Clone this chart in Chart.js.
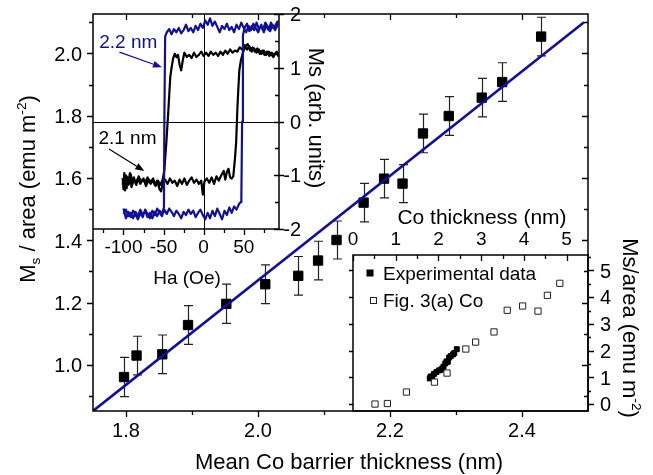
<!DOCTYPE html>
<html lang="en">
<head>
<meta charset="UTF-8">
<title>Ms per area vs mean Co barrier thickness</title>
<script src="https://cdn.jsdelivr.net/npm/chart.js"></script>
<style>
  body { margin: 0; background: #fff; }
  #wrap { position: relative; width: 653px; height: 475px; }
  #wrap canvas { position: absolute; left: 0; top: 0; }
</style>
</head>
<body>
<div id="wrap">
  <canvas id="loops" width="653" height="475"></canvas>
  <canvas id="refInset" width="653" height="475"></canvas>
  <canvas id="main" width="653" height="475"></canvas>
</div>

<script>
// main panel: Ms/area against mean Co barrier thickness
const coX  = [1.797, 1.816, 1.855, 1.894, 1.952, 2.011, 2.061, 2.091, 2.119, 2.160, 2.191, 2.219, 2.250, 2.289, 2.339, 2.370, 2.429];
const msY  = [0.961, 1.030, 1.034, 1.128, 1.196, 1.259, 1.286, 1.335, 1.401, 1.521, 1.598, 1.582, 1.743, 1.799, 1.858, 1.908, 2.054];
const msErr = [0.063, 0.062, 0.062, 0.062, 0.063, 0.062, 0.062, 0.062, 0.061, 0.062, 0.062, 0.061, 0.062, 0.062, 0.062, 0.062, 0.062];
const fitX = [1.75, 2.494];
const fitY = [0.852, 2.10];

const xTicks = [1.8, 2.0, 2.2, 2.4];
const xTickLabels = ['1.8', '2.0', '2.2', '2.4'];
const xMinor = [1.9, 2.1, 2.3];
const yTicks = [1.0, 1.2, 1.4, 1.6, 1.8, 2.0];
const yTickLabels = ['1.0', '1.2', '1.4', '1.6', '1.8', '2.0'];
const yMinor = [0.9, 1.1, 1.3, 1.5, 1.7, 1.9, 2.1];

// inset: hysteresis loops, [field (Oe), Ms (arb. units)]
const blueLoop = [
  [-100,-1.62],[-97,-1.80],[-94,-1.68],[-91,-1.78],[-88,-1.66],[-85,-1.74],[-82,-1.82],[-79,-1.70],[-76,-1.78],[-73,-1.64],
  [-70,-1.72],[-67,-1.80],[-64,-1.66],[-61,-1.74],[-58,-1.62],[-55,-1.70],[-52,-1.76],[-49,-1.64],[-46,-1.72],[-43,-1.62],
  [-40,-1.68],[-37,-1.76],[-34,-1.66],[-31,-1.72],[-28,-1.80],[-25,-1.68],[-22,-1.74],[-19,-1.64],[-16,-1.72],[-13,-1.66],
  [-10,-1.78],[-7,-1.70],[-4,-1.64],[-1,-1.74],[2,-1.82],[5,-1.70],[8,-1.80],[11,-1.66],[14,-1.76],[17,-1.62],
  [20,-1.72],[23,-1.82],[26,-1.66],[29,-1.74],[32,-1.60],[35,-1.70],[38,-1.58],[41,-1.64],[44,-1.54],[46,-1.50],
  [47,-1.50],[48,0.0],[49,1.60],
  [51,1.74],[54,1.82],[57,1.68],[60,1.78],[63,1.70],[66,1.84],[69,1.72],[72,1.80],[75,1.66],[78,1.78],
  [81,1.70],[84,1.84],[87,1.74],[90,1.80],[92,1.86],
  [92,1.78],[89,1.70],[86,1.80],[83,1.68],[80,1.76],[77,1.84],[74,1.70],[71,1.78],[68,1.66],[65,1.74],
  [62,1.82],[59,1.70],[56,1.78],[53,1.66],[50,1.74],[47,1.84],[44,1.72],[41,1.80],[38,1.66],[35,1.76],
  [32,1.70],[29,1.82],[26,1.72],[23,1.78],[20,1.66],[17,1.76],[14,1.86],[11,1.78],[8,1.92],[5,1.80],
  [2,1.88],[-1,1.74],[-4,1.82],[-7,1.70],[-10,1.78],[-13,1.66],[-16,1.74],[-19,1.68],[-22,1.80],[-25,1.70],
  [-28,1.64],[-31,1.74],[-34,1.66],[-37,1.72],[-40,1.62],[-43,1.72],[-46,1.66],[-48,1.58],
  [-49,0.0],[-49.5,-1.60],
  [-52,-1.72],[-55,-1.66],[-58,-1.76],[-61,-1.68],[-64,-1.80],[-67,-1.70],[-70,-1.78],[-73,-1.66],[-76,-1.74],
  [-79,-1.64],[-82,-1.76],[-85,-1.68],[-88,-1.80],[-91,-1.70],[-94,-1.76],[-97,-1.64],[-100,-1.72]
];
const blackLoop = [
  [-101,-1.05],[-100,-1.26],[-99,-0.96],[-98,-1.20],[-97,-1.00],[-96,-1.24],[-95,-1.04],[-93,-1.16],[-91,-0.98],[-89,-1.12],
  [-87,-1.04],[-85,-1.14],[-82,-1.06],[-79,-1.16],[-76,-1.08],[-73,-1.14],[-70,-1.04],[-67,-1.12],[-64,-1.08],[-61,-1.18],
  [-58,-1.10],[-55,-1.26],[-53,-1.30],[-51,-1.14],[-48,-1.08],[-45,-1.16],[-42,-1.06],[-39,-1.14],[-36,-1.10],[-33,-1.20],
  [-30,-1.08],[-27,-1.16],[-24,-1.06],[-21,-1.18],[-18,-1.10],[-15,-1.04],[-12,-1.14],[-9,-1.08],[-6,-1.16],[-3,-1.10],
  [-1,-1.36],[1,-1.12],[4,-1.06],[7,-1.14],[10,-1.04],[13,-1.16],[16,-1.02],[19,-1.10],[22,-1.00],[25,-0.92],
  [27,-1.08],[29,-0.94],[31,-0.88],[33,-1.04],[35,-1.06],[37,-1.02],
  [39,-0.70],[40.5,-0.40],[42,0.20],[43,0.52],[44.5,0.95],[46.5,1.14],[49,1.28],
  [52,1.40],[55,1.44],[58,1.32],[61,1.38],[64,1.30],[67,1.36],[70,1.26],[73,1.32],[76,1.24],
  [79,1.30],[82,1.22],[85,1.28],[88,1.24],[91,1.30],[93,1.26],
  [93,1.22],[90,1.28],[87,1.20],[84,1.26],[81,1.30],[78,1.24],[75,1.32],[72,1.26],[69,1.34],[66,1.28],
  [63,1.36],[60,1.30],[57,1.40],[54,1.34],[51,1.42],[48,1.34],[45,1.38],[42,1.30],[39,1.32],[36,1.28],
  [33,1.34],[30,1.26],[27,1.32],[24,1.24],[21,1.30],[18,1.22],[15,1.28],[12,1.24],[9,1.30],[6,1.22],
  [3,1.28],[0,1.22],[-3,1.30],[-6,1.24],[-9,1.20],[-12,1.28],[-15,1.18],[-18,1.24],[-21,1.20],[-24,1.28],
  [-26,1.14],[-28,0.95],[-30,1.06],[-32,1.24],[-34,1.20],[-36,1.26],[-38,1.18],
  [-40,1.00],[-41.6,0.83],[-44,0.21],[-46.6,-0.41],[-49,-0.90],[-51,-1.08],
  [-54,-1.18],[-57,-1.10],[-60,-1.20],[-63,-1.06],[-66,-1.16],[-69,-1.10],[-72,-1.20],[-75,-1.06],[-78,-1.12],
  [-81,-1.02],[-84,-1.18],[-87,-1.08],[-90,-1.22],[-92,-0.96],[-94,-1.18],[-96,-1.02],[-98,-1.28],[-100,-1.08],[-101,-1.18]
];
const hTicks = [-100, -50, 0, 50];
const hTickLabels = ['-100', '-50', '0', '50'];
const hMinor = [-125, -75, -25, 25, 75];
const mTicks = [2, 1, 0, -1, -2];
const mTickLabels = ['2', '1', '0', '-1', '-2'];
const mMinor = [1.5, 0.5, -0.5, -1.5];

// inset: Ms/area against Co thickness, reference set
const refX = [0.515, 0.805, 1.25, 1.906, 2.20, 2.64, 2.87, 3.30, 3.61, 3.97, 4.33, 4.55, 4.84];
const refY = [0.00, 0.02, 0.45, 0.82, 1.16, 2.06, 2.32, 2.70, 3.51, 3.67, 3.48, 4.07, 4.52];
const tTicks = [0, 1, 2, 3, 4, 5];
const tTickLabels = ['0', '1', '2', '3', '4', '5'];
const tMinor = [0.5, 1.5, 2.5, 3.5, 4.5];
const aTicks = [0, 1, 2, 3, 4, 5];
const aTickLabels = ['0', '1', '2', '3', '4', '5'];
const aMinor = [0.5, 1.5, 2.5, 3.5, 4.5, 5.5];

const BLUE = '#10109a';
const FONT = '"Liberation Sans", Arial, Helvetica, sans-serif';
function font(px) { return px + 'px ' + FONT; }
const pts = (xs, ys) => xs.map((x, i) => ({ x: x, y: ys[i] }));
const pairs = arr => arr.map(p => ({ x: p[0], y: p[1] }));

// tick marks on one side of the plot area; mode = 'in', 'out' or 'both'
function tickMarks(chart, side, values, len, mode) {
  const ctx = chart.ctx, a = chart.chartArea;
  const sc = (side === 'top' || side === 'bottom') ? chart.scales.x : chart.scales.y;
  const o = (mode === 'out' || mode === 'both') ? len : 0;
  const i = (mode === 'in' || mode === 'both') ? len : 0;
  ctx.save();
  ctx.strokeStyle = '#000';
  ctx.lineWidth = 1.3;
  ctx.beginPath();
  values.forEach(v => {
    const p = Math.round(sc.getPixelForValue(v)) + 0.5;
    if (side === 'bottom') { ctx.moveTo(p, a.bottom - i); ctx.lineTo(p, a.bottom + o); }
    if (side === 'top')    { ctx.moveTo(p, a.top + i);    ctx.lineTo(p, a.top - o); }
    if (side === 'left')   { ctx.moveTo(a.left + i, p);   ctx.lineTo(a.left - o, p); }
    if (side === 'right')  { ctx.moveTo(a.right - i, p);  ctx.lineTo(a.right + o, p); }
  });
  ctx.stroke();
  ctx.restore();
}

// tick labels, gap measured from the plot edge to the text (cap centre or near edge)
function tickLabels(chart, side, values, texts, gap, px, align) {
  const ctx = chart.ctx, a = chart.chartArea;
  ctx.save();
  ctx.fillStyle = '#000';
  ctx.font = font(px);
  ctx.textBaseline = 'alphabetic';
  const lift = px * 0.36;
  values.forEach((v, k) => {
    if (side === 'bottom' || side === 'top') {
      const x = chart.scales.x.getPixelForValue(v);
      ctx.textAlign = 'center';
      ctx.fillText(texts[k], x, (side === 'bottom' ? a.bottom + gap : a.top - gap) + lift);
    } else {
      const y = chart.scales.y.getPixelForValue(v);
      ctx.textAlign = align;
      ctx.fillText(texts[k], side === 'left' ? a.left - gap : a.right + gap, y + lift);
    }
  });
  ctx.restore();
}

// centred text with optional sub/superscript parts, rotated about its centre
function richText(ctx, parts, cx, cy, px, rot, color) {
  ctx.save();
  ctx.translate(cx, cy);
  ctx.rotate(rot || 0);
  ctx.fillStyle = color || '#000';
  ctx.textBaseline = 'alphabetic';
  ctx.textAlign = 'left';
  const small = px * 0.62;
  let total = 0;
  const widths = parts.map(p => {
    ctx.font = font(p.sub || p.sup ? small : px);
    const w = ctx.measureText(p.t).width;
    total += w;
    return w;
  });
  let x = -total / 2;
  parts.forEach((p, k) => {
    ctx.font = font(p.sub || p.sup ? small : px);
    let dy = px * 0.36;
    if (p.sub) dy += px * 0.22;
    if (p.sup) dy -= px * 0.42;
    ctx.fillText(p.t, x, dy);
    x += widths[k];
  });
  ctx.restore();
}

function arrow(ctx, x0, y0, x1, y1, color) {
  const ang = Math.atan2(y1 - y0, x1 - x0), head = 9, half = 3.5;
  ctx.save();
  ctx.strokeStyle = color;
  ctx.fillStyle = color;
  ctx.lineWidth = 1.2;
  ctx.beginPath();
  ctx.moveTo(x0, y0);
  ctx.lineTo(x1 - head * Math.cos(ang), y1 - head * Math.sin(ang));
  ctx.stroke();
  ctx.beginPath();
  ctx.moveTo(x1, y1);
  ctx.lineTo(x1 - head * Math.cos(ang) + half * Math.sin(ang), y1 - head * Math.sin(ang) - half * Math.cos(ang));
  ctx.lineTo(x1 - head * Math.cos(ang) - half * Math.sin(ang), y1 - head * Math.sin(ang) + half * Math.cos(ang));
  ctx.closePath();
  ctx.fill();
  ctx.restore();
}

const whiteArea = {
  id: 'whiteArea',
  beforeDraw(chart) {
    const a = chart.chartArea, ctx = chart.ctx;
    ctx.save();
    ctx.fillStyle = '#fff';
    ctx.fillRect(a.left, a.top, a.right - a.left, a.bottom - a.top);
    ctx.restore();
  }
};

const baseOptions = (pad, xr, yr) => ({
  responsive: false,
  animation: false,
  devicePixelRatio: 1,
  layout: { padding: pad },
  plugins: { legend: { display: false }, tooltip: { enabled: false } },
  scales: {
    x: { type: 'linear', min: xr[0], max: xr[1], display: false },
    y: { type: 'linear', min: yr[0], max: yr[1], display: false }
  }
});

// ---------- hysteresis inset (drawn underneath) ----------
new Chart(document.getElementById('loops'), {
  type: 'scatter',
  data: {
    datasets: [
      { data: pairs(blueLoop), showLine: true, borderColor: BLUE, borderWidth: 2.2, pointRadius: 0, tension: 0, borderJoinStyle: 'round' },
      { data: pairs(blackLoop), showLine: true, borderColor: '#000', borderWidth: 2.2, pointRadius: 0, tension: 0, borderJoinStyle: 'round' }
    ]
  },
  options: baseOptions({ left: 93, top: 14, right: 374, bottom: 246 }, [-138, 94], [-2, 2]),
  plugins: [whiteArea, {
    id: 'loopFrame',
    beforeDatasetsDraw(chart) {
      const ctx = chart.ctx, a = chart.chartArea, sx = chart.scales.x, sy = chart.scales.y;
      const x0 = Math.round(sx.getPixelForValue(0)) + 0.5, y0 = Math.round(sy.getPixelForValue(0)) + 0.5;
      ctx.save();
      ctx.strokeStyle = '#000';
      ctx.lineWidth = 1;
      ctx.beginPath();
      ctx.moveTo(x0, a.top); ctx.lineTo(x0, a.bottom);
      ctx.moveTo(a.left, y0); ctx.lineTo(a.right, y0);
      ctx.stroke();
      ctx.restore();
    },
    afterDraw(chart) {
      const ctx = chart.ctx, a = chart.chartArea, sx = chart.scales.x, sy = chart.scales.y;
      ctx.save();
      ctx.strokeStyle = '#000';
      ctx.lineWidth = 1.5;
      ctx.beginPath();
      ctx.moveTo(a.left, a.bottom); ctx.lineTo(a.right, a.bottom); ctx.lineTo(a.right, a.top);
      ctx.stroke();
      ctx.restore();
      tickMarks(chart, 'bottom', hTicks, 6, 'out');
      tickMarks(chart, 'bottom', hMinor, 4, 'out');
      tickMarks(chart, 'right', mTicks, 5, 'both');
      tickMarks(chart, 'right', mMinor, 4, 'in');
      tickLabels(chart, 'bottom', hTicks, hTickLabels, 17, 19);
      tickLabels(chart, 'right', mTicks, mTickLabels, 22, 20, 'right');
      richText(ctx, [{ t: 'Ha (Oe)' }], 187, 277, 19, 0);
      richText(ctx, [{ t: 'Ms (arb. units)' }], 317, 118, 22, Math.PI / 2);
      // curve labels with pointers
      richText(ctx, [{ t: '2.2 nm' }], sx.getPixelForValue(-94), sy.getPixelForValue(1.49), 19, 0, BLUE);
      arrow(ctx, sx.getPixelForValue(-105), sy.getPixelForValue(1.29), sx.getPixelForValue(-52), sy.getPixelForValue(1.01), BLUE);
      richText(ctx, [{ t: '2.1 nm' }], sx.getPixelForValue(-95), sy.getPixelForValue(-0.30), 19, 0, '#000');
      arrow(ctx, sx.getPixelForValue(-118), sy.getPixelForValue(-0.51), sx.getPixelForValue(-74), sy.getPixelForValue(-0.92), '#000');
    }
  }]
});

// ---------- Co thickness inset ----------
new Chart(document.getElementById('refInset'), {
  type: 'scatter',
  data: {
    datasets: [
      { data: pts(refX, refY), pointStyle: 'rect', pointRadius: 4.4, backgroundColor: '#fff', borderColor: '#222', borderWidth: 1 },
      { data: pts(coX, msY), pointStyle: 'rect', pointRadius: 3.5, backgroundColor: '#000', borderColor: '#000', borderWidth: 1 }
    ]
  },
  options: baseOptions({ left: 353, top: 255, right: 65, bottom: 64 }, [0, 5.5], [-0.26, 5.58]),
  plugins: [whiteArea, {
    id: 'refFrame',
    afterDraw(chart) {
      const ctx = chart.ctx, a = chart.chartArea;
      ctx.save();
      ctx.strokeStyle = '#000';
      ctx.lineWidth = 1.5;
      ctx.strokeRect(a.left, a.top, a.right - a.left, a.bottom - a.top);
      ctx.restore();
      tickMarks(chart, 'top', tTicks, 6, 'in');
      tickMarks(chart, 'top', tMinor, 4, 'in');
      tickMarks(chart, 'right', aTicks, 6, 'out');
      tickMarks(chart, 'right', aMinor, 3, 'out');
      tickMarks(chart, 'left', aTicks, 4, 'out');
      tickLabels(chart, 'top', tTicks, tTickLabels, 17, 19);
      tickLabels(chart, 'right', aTicks, aTickLabels, 12, 20, 'left');
      richText(ctx, [{ t: 'Co thickness (nm)' }], 482, 216, 21, 0);
      richText(ctx, [{ t: 'Ms/area (emu m' }, { t: '-2', sup: true }, { t: ')' }], 631, 328, 22, Math.PI / 2);
      // legend
      ctx.save();
      ctx.fillStyle = '#000';
      ctx.fillRect(366.5, 269.5, 7, 7);
      ctx.fillStyle = '#fff';
      ctx.strokeStyle = '#222';
      ctx.lineWidth = 1;
      ctx.fillRect(370.5, 297.5, 6, 6);
      ctx.strokeRect(370.5, 297.5, 6, 6);
      ctx.fillStyle = '#000';
      ctx.font = font(19);
      ctx.textAlign = 'left';
      ctx.textBaseline = 'alphabetic';
      ctx.fillText('Experimental data', 383, 280);
      ctx.fillText('Fig. 3(a) Co', 383, 307);
      ctx.restore();
    }
  }]
});

// ---------- main panel (on top, transparent) ----------
new Chart(document.getElementById('main'), {
  type: 'scatter',
  data: {
    datasets: [
      { data: pts(fitX, fitY), showLine: true, borderColor: BLUE, borderWidth: 2.6, pointRadius: 0 },
      { data: pts(coX, msY), pointStyle: 'rect', pointRadius: 6.6, backgroundColor: '#000', borderColor: '#000', borderWidth: 1 }
    ]
  },
  options: baseOptions({ left: 93, top: 14, right: 65, bottom: 64 }, [1.75, 2.5], [0.852, 2.1265]),
  plugins: [{
    id: 'errorBars',
    beforeDatasetsDraw(chart) {
      const ctx = chart.ctx, sx = chart.scales.x, sy = chart.scales.y;
      ctx.save();
      ctx.strokeStyle = '#222';
      ctx.lineWidth = 1.2;
      ctx.beginPath();
      coX.forEach((x, i) => {
        const px = Math.round(sx.getPixelForValue(x)) + 0.5;
        const top = sy.getPixelForValue(msY[i] + msErr[i]);
        const bot = sy.getPixelForValue(msY[i] - msErr[i]);
        ctx.moveTo(px, top); ctx.lineTo(px, bot);
        ctx.moveTo(px - 4.5, top); ctx.lineTo(px + 4.5, top);
        ctx.moveTo(px - 4.5, bot); ctx.lineTo(px + 4.5, bot);
      });
      ctx.stroke();
      ctx.restore();
    }
  }, {
    id: 'mainFrame',
    afterDraw(chart) {
      const ctx = chart.ctx, a = chart.chartArea;
      ctx.save();
      ctx.strokeStyle = '#000';
      ctx.lineWidth = 1.5;
      ctx.strokeRect(a.left, a.top, a.right - a.left, a.bottom - a.top);
      ctx.restore();
      tickMarks(chart, 'bottom', xTicks, 6, 'out');
      tickMarks(chart, 'bottom', xMinor, 4, 'out');
      tickMarks(chart, 'top', xTicks, 6, 'in');
      tickMarks(chart, 'top', xMinor, 4, 'in');
      tickMarks(chart, 'left', yTicks, 6, 'out');
      tickMarks(chart, 'left', yMinor, 4, 'out');
      tickMarks(chart, 'right', yTicks, 6, 'in');
      tickMarks(chart, 'right', yMinor, 4, 'in');
      tickLabels(chart, 'bottom', xTicks, xTickLabels, 19, 20);
      tickLabels(chart, 'left', yTicks, yTickLabels, 11, 20, 'right');
      richText(ctx, [{ t: 'Mean Co barrier thickness (nm)' }], 349, 461, 22, 0);
      richText(ctx, [{ t: 'M' }, { t: 's', sub: true }, { t: ' / area (emu m' }, { t: '-2', sup: true }, { t: ')' }],
        27, 189, 22, -Math.PI / 2);
    }
  }]
});
</script>
</body>
</html>
